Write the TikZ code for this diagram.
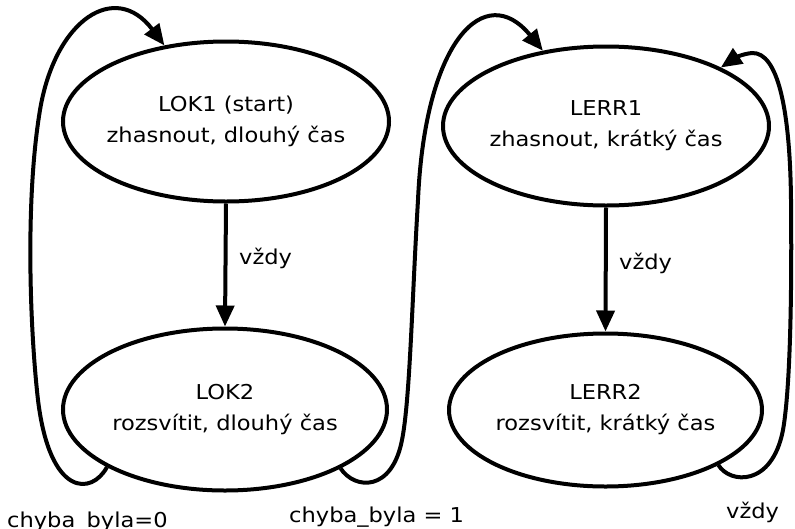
\documentclass[tikz,border=0pt]{standalone}
\usepackage{fontspec}
\setmainfont{DejaVu Sans}[FakeStretch=1.1]
\usetikzlibrary{arrows.meta,shapes.geometric}
\begin{document}
\begin{tikzpicture}[x=1pt,y=-1pt,
  statebox/.style={draw, ellipse, line width=4pt, inner xsep=-60pt, inner ysep=0pt,
    align=center, font=\fontsize{20.5}{31}\selectfont},
  txt/.style={font=\fontsize{20.5}{31}\selectfont, inner sep=0pt, anchor=base west},
  conn/.style={line width=4pt, -{Triangle[length=21pt,width=18pt]}}]
\useasboundingbox (0,0) rectangle (795,528);

\node[statebox, minimum width=326pt, minimum height=160pt] (LOK1) at (226,121.5)
  {LOK1 (start)\\zhasnout, dlouhý čas};
\node[statebox, minimum width=324pt, minimum height=162pt] (LOK2) at (225,409.5)
  {LOK2\\rozsvítit, dlouhý čas};
\node[statebox, minimum width=326pt, minimum height=159pt] (LERR1) at (606,126)
  {LERR1\\zhasnout, krátký čas};
\node[statebox, minimum width=313pt, minimum height=153pt] (LERR2) at (605.5,410)
  {LERR2\\rozsvítit, krátký čas};

\draw[conn] (LOK1.south) -- (LOK2.north);
\draw[conn] (LERR1.south) -- (LERR2.north);

% LOK2 -> LOK1
\draw[conn] (LOK2.206) .. controls (92,495) and (50,498) .. (38,400)
  .. controls (30,330) and (25,200) .. (40,110)
  .. controls (55,20) and (115,-20) .. (LOK1.129);
% LOK2 -> LERR1
\draw[conn] (LOK2.333) .. controls (355,490) and (392,492) .. (402,440)
  .. controls (410,400) and (412,300) .. (418,200)
  .. controls (425,40) and (485,-20) .. (LERR1.130);
% LERR2 -> LERR1
\draw[conn] (LERR2.334) .. controls (730,484) and (772,487) .. (783,430)
  .. controls (790,390) and (792,300) .. (791,200)
  .. controls (790,110) and (778,52) .. (752,53)
  .. controls (742,54) and (735,58) .. (LERR1.27);

\node[txt] (l1) at (239,264) {vždy};
\node[txt] (l2) at (619,269) {vždy};
\node[txt] (l3) at (7,527) {chyba\_byla=0};
\node[txt] (l4) at (289,522) {chyba\_byla = 1};
\node[txt] (l5) at (726,518.5) {vždy};
\end{tikzpicture}
\end{document}
